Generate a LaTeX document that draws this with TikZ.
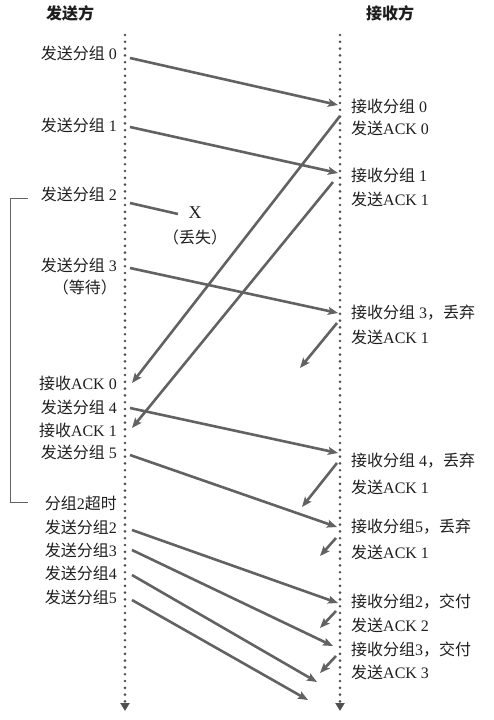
\documentclass[tikz,border=0pt]{standalone}
\usepackage{fontspec}
\setmainfont{Liberation Serif}
\newfontfamily\cjk{Noto Sans CJK SC}
\usetikzlibrary{arrows.meta}
\definecolor{linegray}{RGB}{98,98,98}
\definecolor{dotgray}{RGB}{80,80,80}
\definecolor{textgray}{RGB}{30,30,30}

\begin{document}
\begin{tikzpicture}[x=1pt,y=-1pt,inner sep=0pt,
	font=\fontsize{16}{18}\selectfont,text=textgray,
	timeline/.style={dotgray,line width=2.9pt,line cap=round,dash pattern=on 0pt off 6.8pt,-{Triangle[length=8pt,width=9pt]}},
	msg/.style={linegray,line width=2.6pt,-{Stealth[length=10pt,width=8pt,inset=2pt]}},
	lost/.style={linegray,line width=2.6pt},
	lbl/.style={anchor=east},
	rlbl/.style={anchor=west}]
	\useasboundingbox (0,0) rectangle (494,720);

	% time lines
	\coordinate (LT) at (125,35);
	\coordinate (LB) at (125,711);
	\coordinate (RT) at (340,35);
	\coordinate (RB) at (340,711);
	\draw[timeline] (LT) -- (LB);
	\draw[timeline] (RT) -- (RB);

	% packets and acks
	\coordinate (S0) at (130,58);   \coordinate (R0) at (338,105);
	\coordinate (S1) at (130,127);  \coordinate (R1) at (338,173);
	\coordinate (S2) at (130,203);  \coordinate (X) at (178,214);
	\coordinate (S3) at (130,268);  \coordinate (R3) at (338,313);
	\coordinate (K0) at (340,116);  \coordinate (A0) at (132,383);
	\coordinate (K1) at (333,182);  \coordinate (A1) at (132,428);
	\coordinate (S4) at (130,408);  \coordinate (R4) at (338,453);
	\coordinate (K3) at (337,323);  \coordinate (D3) at (300,368);
	\coordinate (S5) at (130,455);  \coordinate (R5) at (337,527);
	\coordinate (K4) at (337,463);  \coordinate (D4) at (302,507);
	\coordinate (K5) at (336,538);  \coordinate (D5) at (320,556);
	\coordinate (T2) at (132,530);  \coordinate (Q2) at (338,603);
	\coordinate (T3) at (132,550);  \coordinate (Q3) at (333,646);
	\coordinate (T4) at (132,575);  \coordinate (Q4) at (317,682);
	\coordinate (T5) at (132,600);  \coordinate (Q5) at (308,700);
	\coordinate (K6) at (336,611);  \coordinate (D6) at (320,628);
	\coordinate (K7) at (336,656);  \coordinate (D7) at (320,673);

	\draw[msg] (S0) -- (R0);
	\draw[msg] (S1) -- (R1);
	\draw[lost] (S2) -- (X);
	\draw[msg] (S3) -- (R3);
	\draw[msg] (K0) -- (A0);
	\draw[msg] (K1) -- (A1);
	\draw[msg] (S4) -- (R4);
	\draw[msg] (K3) -- (D3);
	\draw[msg] (S5) -- (R5);
	\draw[msg] (K4) -- (D4);
	\draw[msg] (K5) -- (D5);
	\draw[msg] (T2) -- (Q2);
	\draw[msg] (T3) -- (Q3);
	\draw[msg] (T4) -- (Q4);
	\draw[msg] (T5) -- (Q5);
	\draw[msg] (K6) -- (D6);
	\draw[msg] (K7) -- (D7);

	% timeout bracket
	\coordinate (B1) at (28,198);
	\coordinate (B2) at (28,502);
	\draw[linegray,line width=1pt] (B1) -- (10,198) -- (10,502) -- (B2);

	% headers
	\node (hs) at (70,13) {\cjk\bfseries 发送方};
	\node (hr) at (390,13) {\cjk\bfseries 接收方};

	% sender side
	\node[lbl] (s0) at (117,53) {{\cjk 发送分组} 0};
	\node[lbl] (s1) at (117,125) {{\cjk 发送分组} 1};
	\node[lbl] (s2) at (117,194) {{\cjk 发送分组} 2};
	\node[lbl] (s3) at (117,265) {{\cjk 发送分组} 3};
	\node[lbl] (w3) at (117,287) {\cjk （等待）};
	\node[lbl] (a0) at (117,383) {{\cjk 接收}ACK 0};
	\node[lbl] (s4) at (117,407) {{\cjk 发送分组} 4};
	\node[lbl] (a1) at (117,430) {{\cjk 接收}ACK 1};
	\node[lbl] (s5) at (117,452) {{\cjk 发送分组} 5};
	\node[lbl] (to) at (117,503) {{\cjk 分组}2{\cjk 超时}};
	\node[lbl] (t2) at (117,527) {{\cjk 发送分组}2};
	\node[lbl] (t3) at (117,550) {{\cjk 发送分组}3};
	\node[lbl] (t4) at (117,573) {{\cjk 发送分组}4};
	\node[lbl] (t5) at (117,597) {{\cjk 发送分组}5};

	% lost packet
	\node (x) at (195,213) {\fontsize{18}{20}\selectfont X};
	\node (xl) at (195,237) {\cjk （丢失）};

	% receiver side
	\node[rlbl] (r0) at (351,106) {{\cjk 接收分组} 0};
	\node[rlbl] (k0) at (351,128) {{\cjk 发送}ACK 0};
	\node[rlbl] (r1) at (351,175) {{\cjk 接收分组} 1};
	\node[rlbl] (k1) at (351,199) {{\cjk 发送}ACK 1};
	\node[rlbl] (r3) at (351,313) {{\cjk 接收分组} 3{\cjk ，丢弃}};
	\node[rlbl] (k3) at (351,337) {{\cjk 发送}ACK 1};
	\node[rlbl] (r4) at (351,461) {{\cjk 接收分组} 4{\cjk ，丢弃}};
	\node[rlbl] (k4) at (351,487) {{\cjk 发送}ACK 1};
	\node[rlbl] (r5) at (351,527) {{\cjk 接收分组}5{\cjk ，丢弃}};
	\node[rlbl] (k5) at (351,552) {{\cjk 发送}ACK 1};
	\node[rlbl] (r6) at (351,602) {{\cjk 接收分组}2{\cjk ，交付}};
	\node[rlbl] (k6) at (351,625) {{\cjk 发送}ACK 2};
	\node[rlbl] (r7) at (351,650) {{\cjk 接收分组}3{\cjk ，交付}};
	\node[rlbl] (k7) at (351,672) {{\cjk 发送}ACK 3};
\end{tikzpicture}
\end{document}
